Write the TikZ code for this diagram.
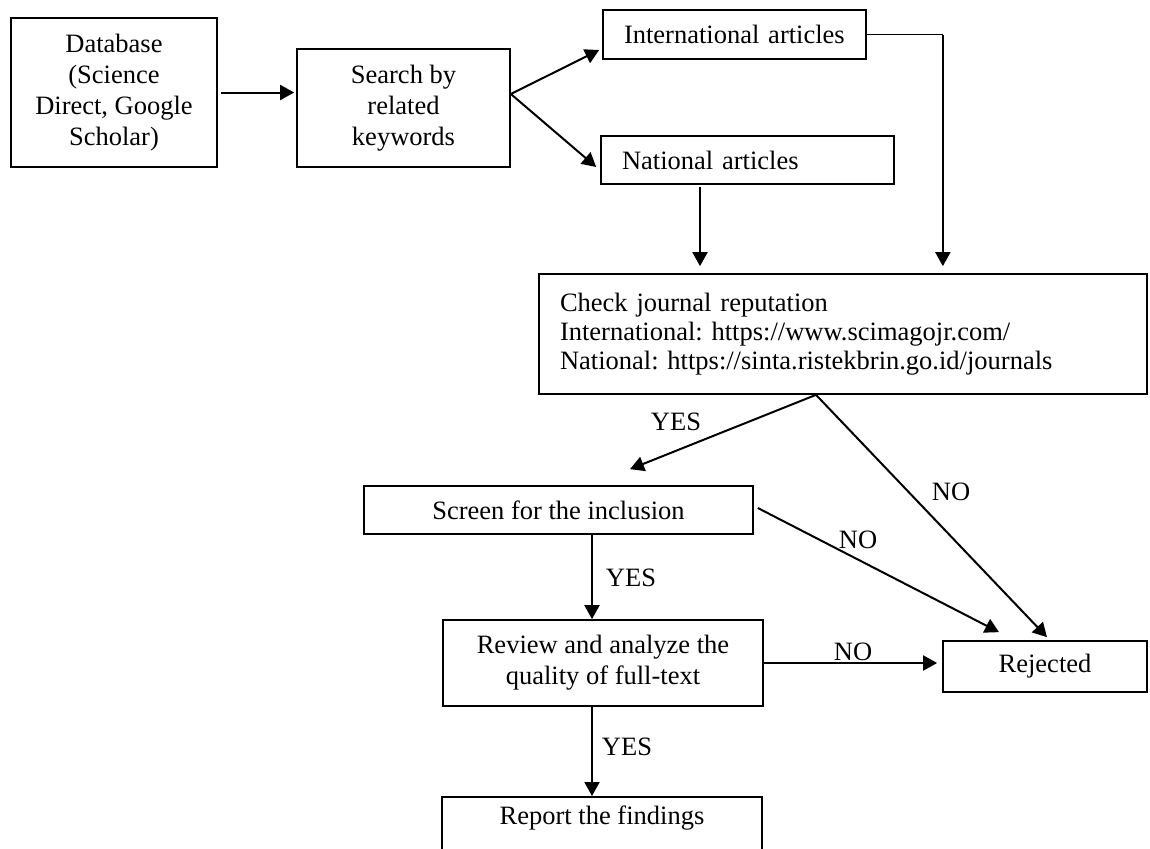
\documentclass[tikz,border=0pt]{standalone}
\usepackage{fontspec}
\setmainfont{Liberation Serif}
\usetikzlibrary{arrows.meta}
\frenchspacing
\tikzset{
  every node/.style={font=\fontsize{13.25}{15.5}\selectfont},
  box/.style={draw, line width=0.85pt, inner sep=0pt, align=center},
  lbox/.style={draw, line width=0.85pt, inner xsep=10.5pt, inner ysep=0pt, align=left},
  arr/.style={line width=1pt, -{Triangle[length=7pt,width=7.5pt]}},
  thinline/.style={line width=0.5pt},
  lbl/.style={inner sep=0pt}
}
\begin{document}
\begin{tikzpicture}[x=0.5pt,y=-0.5pt]
\useasboundingbox (0,0) rectangle (1150,848);
\clip (0,0) rectangle (1150,848);

% boxes
\node[box, minimum width=103pt, minimum height=74.5pt] (db) at (114,92.5)
  {Database\\(Science\\Direct, Google\\Scholar)};
\node[box, minimum width=106.5pt, minimum height=59pt] (search) at (403.5,108)
  {Search by\\related\\keywords};
\node[lbox, text width=110.5pt, minimum height=24.5pt] (intl) at (734.5,34.5)
  {International articles};
\node[lbox, text width=125.5pt, minimum height=24pt] (natl) at (747.5,160)
  {National articles};
\node[lbox, text width=283pt, minimum height=60pt,
      font=\fontsize{13.25}{14.5}\selectfont] (check) at (843,334)
  {Check journal reputation\\International: https://www.scimagojr.com/\\National: https://sinta.ristekbrin.go.id/journals};
\node[box, minimum width=194.5pt, minimum height=24pt] (screen) at (558.5,510)
  {Screen for the inclusion};
\node[box, minimum width=160pt, minimum height=43pt] (review) at (603,663)
  {Review and analyze the\\quality of full-text};
\node[box, minimum width=102pt, minimum height=25.5pt] (rejected) at (1045,666.5)
  {Rejected};
\node[box, minimum width=160pt, anchor=north, inner ysep=4pt,
      text height=10pt, text depth=20pt] (report) at (602,796)
  {Report the findings};

% connectors
\draw[arr, shorten <=1.5pt, shorten >=1pt] (db.east) -- (db.east -| search.west);
\draw[arr] ([yshift=7pt]search.east) -- ([yshift=-7.75pt,xshift=-1.5pt]intl.west);
\draw[arr] ([yshift=7pt]search.east) -- ([yshift=-3.5pt,xshift=-2pt]natl.west);

\coordinate (c1) at ([xshift=38pt]intl.east);
\draw[thinline] (intl.east) -- (c1);
\draw[arr, shorten >=3.5pt] (c1) -- (c1 |- check.north);
\draw[arr, shorten <=1pt, shorten >=3.5pt] ([xshift=-23.75pt]natl.south) -- ([xshift=-23.75pt]natl.south |- check.north);

\coordinate (b1) at ([xshift=-13.5pt]check.south);
\draw[arr] (b1) -- ([xshift=35.75pt,yshift=8pt]screen.north);
\draw[arr] (b1) -- ([xshift=1pt,yshift=1.5pt]rejected.north);
\draw[arr] ([xshift=2pt,yshift=1pt]screen.east) -- ([xshift=-23pt,yshift=4pt]rejected.north);
\draw[arr] ([xshift=-5.5pt]review.north |- screen.south) -- ([xshift=-5.5pt]review.north);
\draw[arr, shorten >=2.5pt] (review.east) -- (review.east -| rejected.west);
\draw[arr] ([xshift=-5.5pt]review.south) -- ([xshift=-5.5pt]review.south |- report.north);

% labels
\node[lbl] (yes1) at (676,422) {YES};
\node[lbl] (no1) at (951,492) {NO};
\node[lbl] (no2) at (858,540) {NO};
\node[lbl] (yes2) at (631,578) {YES};
\node[lbl] (no3) at (853,652) {NO};
\node[lbl] (yes3) at (627,747) {YES};
\end{tikzpicture}
\end{document}
